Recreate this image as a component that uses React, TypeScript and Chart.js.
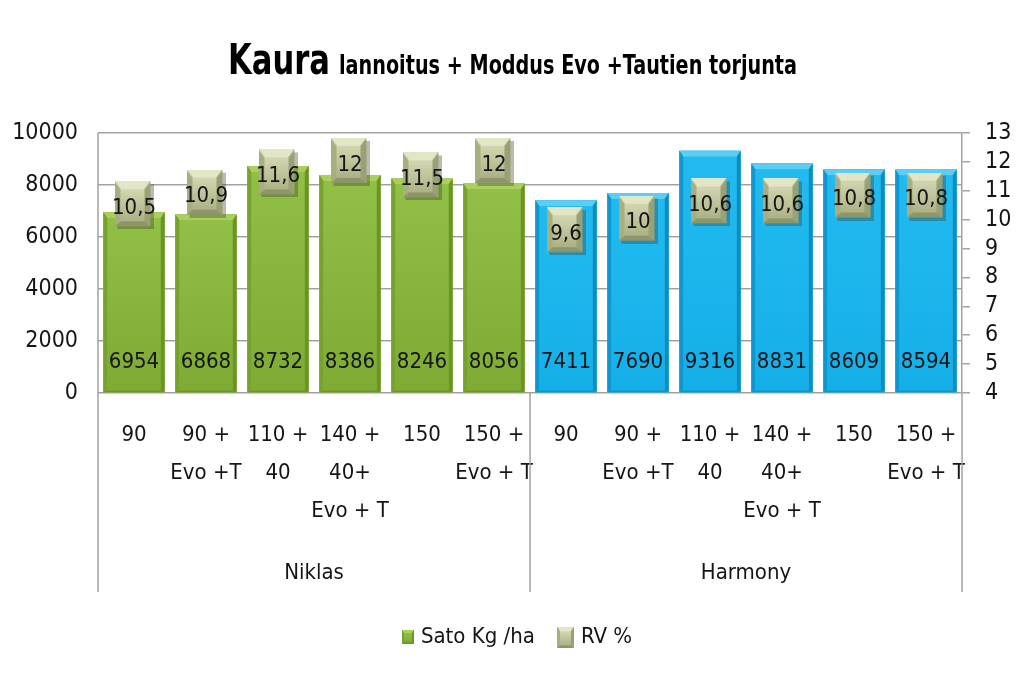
import React, { useEffect, useRef } from 'react';
import { Chart, registerables } from 'chart.js';

Chart.register(...registerables);

const FONT = "'DejaVu Sans Condensed', 'Liberation Sans Narrow', 'Open Sans', sans-serif";

// ---- data ----
const titleMain = 'Kaura';
const titleSub = 'lannoitus + Moddus Evo +Tautien torjunta';
const treatments: string[][] = [
  ['90'],
  ['90 +', 'Evo +T'],
  ['110 +', '40'],
  ['140 +', '40+', 'Evo + T'],
  ['150'],
  ['150 +', 'Evo + T'],
];
const varieties = ['Niklas', 'Harmony'];
const categories: string[][] = [...treatments, ...treatments];
const satoValues = [6954, 6868, 8732, 8386, 8246, 8056, 7411, 7690, 9316, 8831, 8609, 8594];
const rvValues = [10.5, 10.9, 11.6, 12, 11.5, 12, 9.6, 10, 10.6, 10.6, 10.8, 10.8];
const seriesNames = ['Sato Kg /ha', 'RV %'];
const yMin = 0, yMax = 10000, yStep = 2000;
const y1Min = 4, y1Max = 13, y1Step = 1;

type Pal = { mid: string; top: string; bottom: string; left: string; right: string; in1: string; in2: string };
const greenPal: Pal = { mid: '#86b33a', top: '#a9d05c', bottom: '#6e9726', left: '#77a22c', right: '#6a9424', in1: '#92bf45', in2: '#7faa33' };
const bluePal: Pal = { mid: '#19b4ec', top: '#5ccdf4', bottom: '#0f95cc', left: '#1097cf', right: '#0d8cc2', in1: '#22bbf0', in2: '#15afe8' };
const rvPal: Pal = { mid: '#b5ba8e', top: '#e2e5c6', bottom: '#8d956a', left: '#a7ae80', right: '#9aa275', in1: '#d3d6b0', in2: '#adb286' };
const barPals = categories.map((_, i) => (i < treatments.length ? greenPal : bluePal));

const textColor = '#151515';
const gridColor = '#a2a2a2';

function poly(g: CanvasRenderingContext2D, pts: number[][], color: string) {
  g.beginPath();
  g.moveTo(pts[0][0], pts[0][1]);
  for (let i = 1; i < pts.length; i++) g.lineTo(pts[i][0], pts[i][1]);
  g.closePath();
  g.fillStyle = color;
  g.fill();
}

function drawBevel(g: CanvasRenderingContext2D, x: number, y: number, w: number, h: number, b: number, c: Pal, sb: number, bb: number) {
  g.save();
  g.fillStyle = c.mid;
  g.fillRect(x, y, w, h);
  poly(g, [[x, y], [x + w, y], [x + w - sb, y + b], [x + sb, y + b]], c.top);
  if (bb > 0) poly(g, [[x, y + h], [x + w, y + h], [x + w - sb, y + h - bb], [x + sb, y + h - bb]], c.bottom);
  poly(g, [[x, y], [x + sb, y + b], [x + sb, y + h - bb], [x, y + h]], c.left);
  poly(g, [[x + w, y], [x + w - sb, y + b], [x + w - sb, y + h - bb], [x + w, y + h]], c.right);
  const gr = g.createLinearGradient(0, y + b, 0, y + h - bb);
  gr.addColorStop(0, c.in1);
  gr.addColorStop(1, c.in2);
  g.fillStyle = gr;
  g.fillRect(x + sb, y + b, w - 2 * sb, h - b - bb);
  g.restore();
}

function makeBox(w: number, h: number, b: number, c: Pal, shadow: number) {
  const cv = document.createElement('canvas');
  cv.width = w + shadow;
  cv.height = h + shadow;
  const g = cv.getContext('2d')!;
  if (shadow > 0) {
    g.fillStyle = 'rgba(60,60,40,0.35)';
    g.fillRect(shadow, shadow, w, h);
  }
  drawBevel(g, 0, 0, w, h, b, c, Math.max(2, b - 2), Math.max(2, b - 3));
  return cv;
}

const fmt = (v: number) => String(v).replace('.', ',');

function fitText(ctx: CanvasRenderingContext2D, text: string, x: number, y: number, targetW: number) {
  const w = ctx.measureText(text).width;
  ctx.save();
  ctx.translate(x, y);
  ctx.scale(targetW / w, 1);
  ctx.fillText(text, 0, 0);
  ctx.restore();
}

const titlePlugin = {
  id: 'titlePlugin',
  afterDraw(chart: any) {
    const ctx = chart.ctx as CanvasRenderingContext2D;
    ctx.save();
    ctx.fillStyle = '#000';
    ctx.textBaseline = 'alphabetic';
    ctx.textAlign = 'left';
    ctx.font = `bold 42px ${FONT}`;
    fitText(ctx, titleMain, 228, 74, 102);
    ctx.font = `bold 26px ${FONT}`;
    fitText(ctx, titleSub, 339, 74, 458);
    ctx.restore();
  },
};

const decorPlugin = {
  id: 'decorPlugin',
  afterDatasetDraw(chart: any, args: any) {
    if (args.index !== 0) return;
    const ctx = chart.ctx as CanvasRenderingContext2D;
    const meta = chart.getDatasetMeta(0);
    meta.data.forEach((el: any, i: number) => {
      const p = el.getProps(['x', 'y', 'base', 'width'], true);
      const l = p.x - p.width / 2;
      drawBevel(ctx, l, p.y, p.width, p.base - p.y, 6, barPals[i], 4, 2);
    });
  },
  afterDatasetsDraw(chart: any) {
    const ctx = chart.ctx as CanvasRenderingContext2D;
    const ys = chart.scales.y;
    ctx.save();
    ctx.fillStyle = textColor;
    ctx.textAlign = 'center';
    ctx.textBaseline = 'middle';
    ctx.font = `22px ${FONT}`;
    const barMeta = chart.getDatasetMeta(0);
    barMeta.data.forEach((el: any, i: number) => {
      ctx.fillText(String(satoValues[i]), el.x, ys.getPixelForValue(1200));
    });
    const lineMeta = chart.getDatasetMeta(1);
    lineMeta.data.forEach((el: any, i: number) => {
      ctx.fillText(fmt(rvValues[i]), el.x, el.y + 3);
    });
    ctx.restore();
  },
  afterDraw(chart: any) {
    const ctx = chart.ctx as CanvasRenderingContext2D;
    const { left, right, top, bottom } = chart.chartArea;
    const xs = chart.scales.x;
    const mid = xs.getPixelForValue(treatments.length - 0.5);
    const lowEnd = 592;
    ctx.save();
    ctx.strokeStyle = gridColor;
    ctx.lineWidth = 1.5;
    ctx.beginPath();
    ctx.moveTo(left, top);
    ctx.lineTo(left, lowEnd);
    ctx.moveTo(mid, bottom);
    ctx.lineTo(mid, lowEnd);
    ctx.moveTo(right, bottom);
    ctx.lineTo(right, lowEnd);
    ctx.stroke();

    // legend
    const icons = [makeBox(12, 14, 3, greenPal, 0), makeBox(17, 21, 5, rvPal, 0)];
    ctx.font = `22px ${FONT}`;
    ctx.textBaseline = 'middle';
    ctx.textAlign = 'left';
    ctx.fillStyle = textColor;
    const gapIconText = 7;
    const gapItems = 22;
    const widths = seriesNames.map((n) => ctx.measureText(n).width);
    let total = 0;
    seriesNames.forEach((_, i) => {
      total += icons[i].width + gapIconText + widths[i];
    });
    total += gapItems;
    let x = 517 - total / 2;
    const cy = 637;
    seriesNames.forEach((n, i) => {
      ctx.drawImage(icons[i], x, cy - icons[i].height / 2);
      x += icons[i].width + gapIconText;
      ctx.fillText(n, x, cy);
      x += widths[i] + gapItems;
    });
    ctx.restore();
  },
};

export default function App() {
  const ref = useRef<HTMLCanvasElement>(null);
  useEffect(() => {
    const canvas = ref.current!;
    const marker = makeBox(36, 45, 8, rvPal, 3);
    const chart = new Chart(canvas, {
      data: {
        labels: categories,
        datasets: [
          {
            type: 'bar',
            label: seriesNames[0],
            data: satoValues,
            backgroundColor: barPals.map((p) => p.mid),
            borderWidth: 0,
            barPercentage: 0.85,
            categoryPercentage: 1,
            yAxisID: 'y',
            order: 2,
          } as any,
          {
            type: 'line',
            label: seriesNames[1],
            data: rvValues,
            showLine: false,
            pointStyle: marker,
            pointRadius: 22,
            yAxisID: 'y1',
            order: 1,
          } as any,
        ],
      },
      options: {
        responsive: false,
        animation: false,
        events: [],
        layout: { padding: { top: 133, bottom: 89, left: 0, right: 0 } },
        plugins: { legend: { display: false }, tooltip: { enabled: false }, title: { display: false } },
        scales: {
          x: {
            type: 'category',
            position: 'bottom',
            offset: true,
            grid: { display: false, drawTicks: false },
            border: { display: false },
            ticks: {
              autoSkip: false,
              maxRotation: 0,
              padding: 23,
              color: textColor,
              font: { family: FONT, size: 22, lineHeight: 1.73 },
            },
            afterFit: (s: any) => {
              s.height = 150;
            },
          },
          x2: {
            type: 'category',
            position: 'bottom',
            labels: varieties,
            offset: true,
            weight: 1,
            grid: { display: false, drawTicks: false },
            border: { display: false },
            ticks: {
              autoSkip: false,
              maxRotation: 0,
              padding: 11,
              color: textColor,
              font: { family: FONT, size: 22, lineHeight: 1.73 },
            },
            afterFit: (s: any) => {
              s.height = 52;
            },
          },
          y: {
            position: 'left',
            min: yMin,
            max: yMax,
            ticks: {
              stepSize: yStep,
              padding: 20,
              color: textColor,
              font: { family: FONT, size: 23 },
              callback: (v: any) => String(v),
            },
            grid: { color: gridColor, lineWidth: 1.5, drawTicks: false },
            border: { display: false },
            afterFit: (s: any) => {
              s.width = 98;
            },
          },
          y1: {
            position: 'right',
            min: y1Min,
            max: y1Max,
            ticks: {
              stepSize: y1Step,
              autoSkip: false,
              padding: 15,
              color: textColor,
              font: { family: FONT, size: 23 },
              callback: (v: any) => String(v),
            },
            grid: { drawOnChartArea: false, drawTicks: true, tickLength: 8, color: gridColor, lineWidth: 1.5 },
            border: { display: true, color: gridColor, width: 1.5 },
            afterFit: (s: any) => {
              s.width = 62;
            },
          },
        },
      } as any,
      plugins: [titlePlugin, decorPlugin],
    });
    return () => chart.destroy();
  }, []);
  return (
    <div style={{ position: 'absolute', left: 0, top: 0, width: 1024, height: 684, background: '#fff' }}>
      <canvas ref={ref} width={1024} height={684} style={{ display: 'block' }} />
    </div>
  );
}
